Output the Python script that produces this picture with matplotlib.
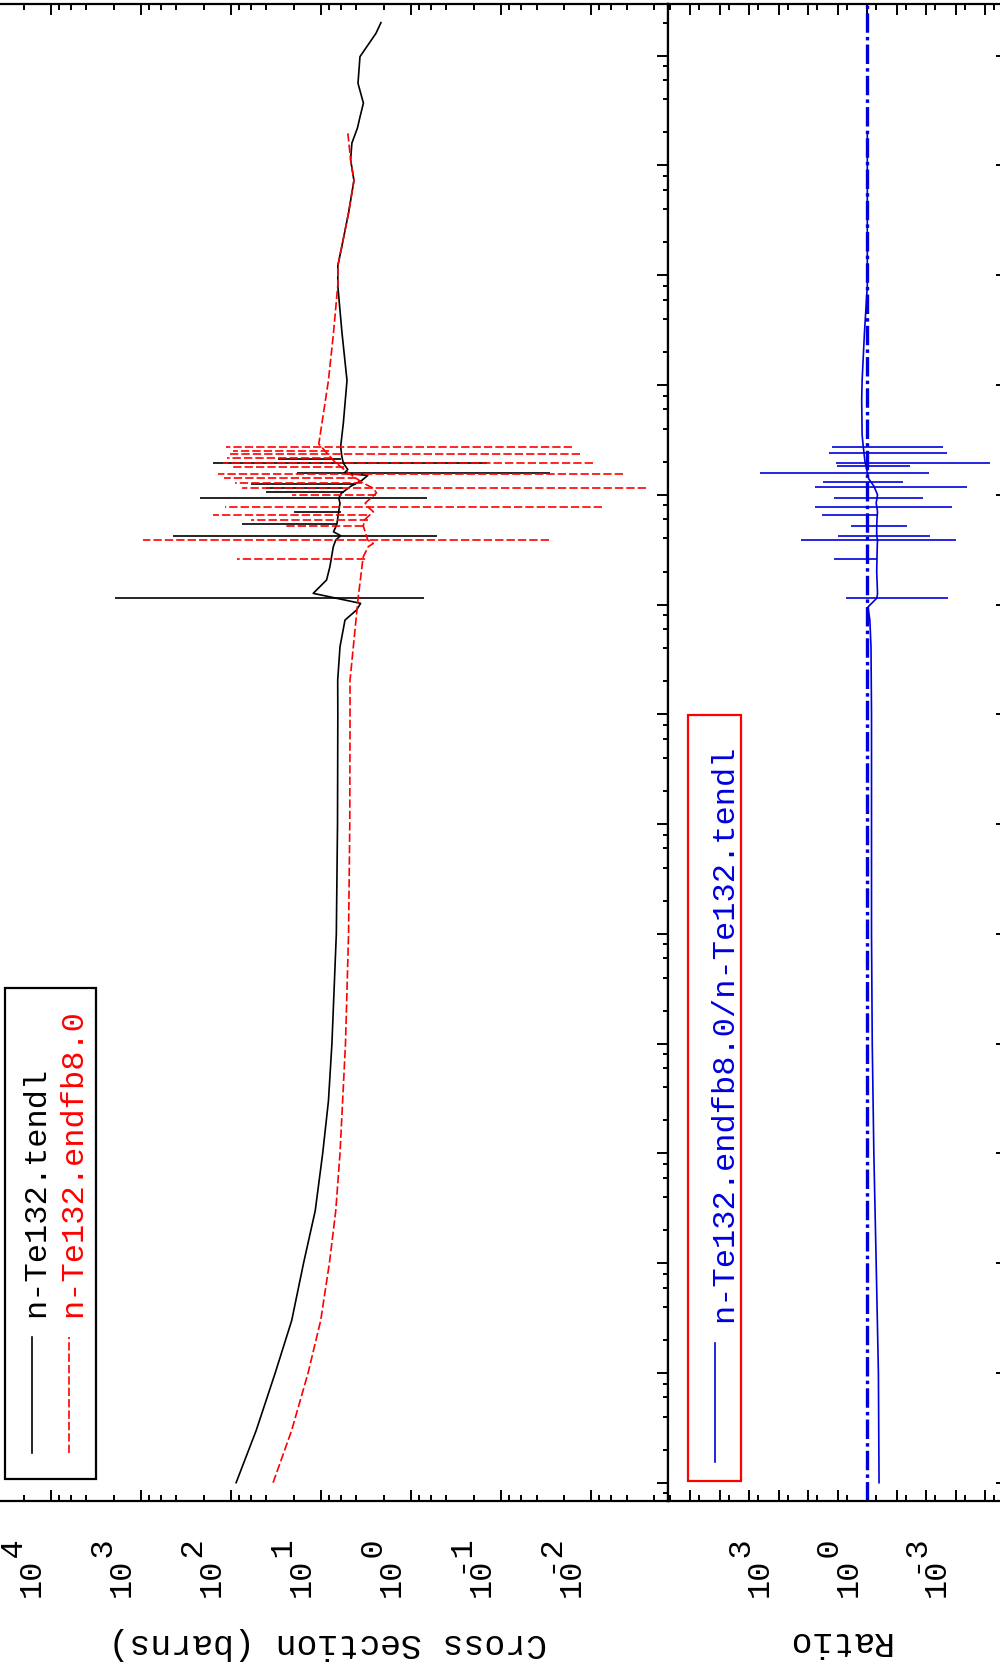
import numpy as np
import matplotlib.pyplot as plt
from matplotlib.ticker import LogLocator, NullFormatter

plt.rcParams['font.family'] = ['Liberation Mono', 'DejaVu Sans Mono']
plt.rcParams['lines.scale_dashes'] = False

# smooth background of each evaluation (energy in eV, cross section in barns)
tendl_e = [1e-5, 3e-5, 1e-4, 3e-4, 1e-3, 3e-3, 1e-2, 3e-2, 0.1, 1.0, 10.0,
           100.0, 205.0, 413.0, 722.0, 891.0, 1025.0, 1265.0, 1455.0,
           1675.0, 2213.0, 3365.0, 3870.0, 4240.0, 4600.0, 5100.0, 5420.0,
           6500.0, 8400.0, 9290.0, 1.03e4, 1.2e4, 1.35e4, 1.5e4, 1.57e4,
           1.7e4, 1.94e4, 2.2e4, 2.74e4, 4.5e4, 1.1e5, 3e5, 8e5, 1.22e6,
           1.9e6, 3.7e6, 7.3e6, 1.13e7, 1.6e7, 2.2e7, 2.76e7, 3.7e7, 5.6e7,
           9.8e7, 1.6e8, 2.0e8]
tendl_xs = [87.0, 52.0, 32.0, 21.0, 15.5, 11.5, 9.5, 8.2, 7.5, 6.7, 6.5,
            6.45, 6.47, 6.1, 5.37, 4.0, 3.6, 12.1, 10.2,
            8.6, 7.9, 7.24, 6.8, 6.0, 7.2, 6.8, 6.6,
            6.4, 6.1, 6.3, 5.9, 4.6, 3.5, 3.0, 5.5,
            5.0, 5.6, 5.8, 6.0, 5.6, 5.1, 5.8, 6.45, 6.45,
            5.77, 4.9, 4.27, 4.65, 4.5, 3.9, 3.66, 3.35, 3.85,
            3.66, 2.43, 2.14]
endf_e = [1e-5, 3e-5, 1e-4, 3e-4, 1e-3, 3e-3, 1e-2, 0.1, 1.0, 10.0, 100.0,
          205.0, 1180.0, 2580.0, 2730.0, 3365.0, 3610.0, 3870.0, 4150.0,
          5220.0, 6000.0, 7000.0, 7780.0, 8400.0, 1.04e4, 1.146e4, 1.3e4,
          1.6e4, 2.0e4, 2.4e4, 2.9e4, 1.1e5, 3e5, 8.2e5, 1.22e6, 1.9e6,
          3.7e6, 7.3e6, 1.13e7, 2.0e7]
endf_xs = [33.8, 21.0, 13.8, 10.0, 8.0, 6.8, 6.1, 5.3, 4.9, 4.75, 4.72,
           4.72, 3.82, 3.4, 3.36, 2.96, 2.6, 3.0, 3.08,
           3.37, 3.2, 2.6, 3.0, 3.2, 2.4, 2.6, 3.5,
           5.0, 7.0, 8.5, 10.5, 8.2, 7.2, 6.45, 6.45, 5.77,
           4.9, 4.27, 4.65, 5.0]

# resonances: energy, lowest and highest cross section of each spike
tendl_res_e = [1140.0, 4240.0, 5420.0, 7000.0, 9290.0, 1.05e4, 1.146e4,
               1.25e4, 1.57e4, 1.94e4, 2.1e4]
tendl_res_lo = [0.71, 0.51, 6.6, 6.0, 0.66, 5.5, 5.65, 4.0, 0.028, 0.143, 6.0]
tendl_res_hi = [1940.0, 436.0, 75.0, 20.0, 220.0, 40.0, 40.0, 60.0, 18.5,
                158.0, 30.0]
endf_res_e = [2580.0, 3870.0, 5220.0, 5900.0, 6550.0, 7780.0, 9960.0,
              1.146e4, 1.27e4, 1.41e4, 1.545e4, 1.78e4, 1.96e4, 2.15e4,
              2.35e4, 2.52e4, 2.74e4]
endf_res_lo = [3.22, 0.0288, 3.37, 3.0, 3.08, 0.0075, 2.4, 0.0024, 3.5,
               4.0, 0.0044, 5.5, 0.0094, 7.5, 0.0132, 8.0, 0.0163]
endf_res_hi = [86.0, 931.0, 24.9, 60.0, 158.0, 115.0, 21.0, 74.0, 90.0,
               120.0, 139.0, 100.0, 121.0, 110.0, 106.0, 95.0, 112.0]

# ratio endfb8.0 / tendl
ratio_e = [1e-5, 1e-4, 1e-3, 1e-2, 0.1, 1.0, 10.0, 100.0, 413.0, 722.0,
           950.0, 1140.0, 1250.0, 2000.0, 3400.0, 3870.0, 4210.0, 5000.0,
           6000.0, 7000.0, 8400.0, 1e4, 1.2e4, 1.4e4, 2e4, 2.74e4, 3.5e4,
           7.3e4, 1.1e5, 3e5, 8e5, 2e6, 2e7]
ratio_v = [0.40, 0.42, 0.50, 0.60, 0.68, 0.72, 0.72, 0.72, 0.75, 0.82,
           0.95, 0.48, 0.45, 0.48, 0.46, 0.45, 0.48, 0.48,
           0.47, 0.45, 0.5, 0.45, 0.6, 0.9, 1.2, 1.37, 1.5,
           1.55, 1.5, 1.25, 1.0, 1.0, 1.0]
ratio_res_e = [1140.0, 2600.0, 3870.0, 4210.0, 5200.0, 6550.0, 7780.0,
               9290.0, 1.17e4, 1.32e4, 1.57e4, 1.83e4, 1.96e4, 2.39e4,
               2.74e4]
ratio_res_lo = [0.0019, 0.48, 0.001, 0.0074, 0.044, 0.48, 0.0013, 0.013,
                4.2e-4, 0.063, 0.0079, 0.035, 6.9e-5, 0.002, 0.0026]
ratio_res_hi = [5.3, 13.0, 182.0, 9.6, 3.6, 34.0, 60.0, 14.0, 60.0, 31.0,
                4370.0, 11.0, 11.5, 20.0, 16.0]

xs_ticks = [1e4, 1e3, 1e2, 1e1, 1e0, 1e-1, 1e-2]
ratio_ticks = [1e3, 1e0, 1e-3]

W, H = 1000, 1667
fig = plt.figure(figsize=(W / 100, H / 100), dpi=100)


def box(x0, y0, x1, y1):
    # pixel box measured from the top-left corner
    return [x0 / W, 1 - y1 / H, (x1 - x0) / W, (y1 - y0) / H]


ax = fig.add_axes(box(0, 4, 668, 1500.7))
axr = fig.add_axes(box(668, 4, 1007, 1500.7))

for a in (ax, axr):
    a.set_xscale('log')
    a.set_yscale('log')
    a.set_ylim(10 ** -5.164, 10 ** 8.471)
    a.yaxis.set_major_locator(LogLocator(base=10, numticks=30))
    a.yaxis.set_minor_locator(LogLocator(base=10, subs=(2, 4, 6, 8), numticks=30))
    a.xaxis.set_major_formatter(NullFormatter())
    a.xaxis.set_minor_formatter(NullFormatter())
    a.yaxis.set_major_formatter(NullFormatter())
    a.yaxis.set_minor_formatter(NullFormatter())
    for s in a.spines.values():
        s.set_linewidth(1.6)

ax.set_xlim(10 ** 4.563, 10 ** -2.859)
axr.set_xlim(10 ** 6.763, 10 ** -4.74)
ax.spines['left'].set_visible(False)

ax.xaxis.set_major_locator(LogLocator(base=10, numticks=30))
ax.xaxis.set_minor_locator(LogLocator(base=10, subs=(2, 4, 6, 8), numticks=30))
axr.xaxis.set_major_locator(LogLocator(base=10, numticks=30))
axr.xaxis.set_minor_locator(LogLocator(base=10, subs=(5,), numticks=30))

for a in (ax, axr):
    a.tick_params(axis='x', which='both', direction='in', top=True, bottom=True, width=1.4)
    a.tick_params(axis='x', which='major', length=8.1)
    a.tick_params(axis='x', which='minor', length=4.1)

ax.tick_params(axis='y', which='both', direction='inout', left=False, right=True, width=1.4)
ax.tick_params(axis='y', which='major', length=16.3)
ax.tick_params(axis='y', which='minor', length=7.9)
axr.tick_params(axis='y', which='both', direction='in', left=False, right=True, width=1.4)
axr.tick_params(axis='y', which='major', length=8.1)
axr.tick_params(axis='y', which='minor', length=4.0)

# cross sections, drawn with energy running up the page
dash = (0, (6, 2.2))
ax.plot(tendl_xs, tendl_e, color='black', lw=1.2)
ax.hlines(tendl_res_e, tendl_res_lo, tendl_res_hi, color='black', lw=1.2)
ax.plot(endf_xs, endf_e, color='red', lw=1.2, ls=dash)
ax.hlines(endf_res_e, endf_res_lo, endf_res_hi, color='red', lw=1.2, ls=dash)

# ratio panel
axr.axvline(1.0, color='#0000dd', lw=2.4, ls=(0, (14, 3, 2.5, 3)))
axr.plot(ratio_v, ratio_e, color='#0000dd', lw=1.2)
axr.hlines(ratio_res_e, ratio_res_lo, ratio_res_hi, color='#0000dd', lw=1.2)

fig.canvas.draw()

TICK_FS = 23
LAB_FS = 25
LEG_FS = 23


def exp_label(a, value, exponent):
    # "10" with a full-size raised exponent, turned on its side
    x = a.transData.transform((value, 1.0))[0] + 2
    sign = '-' if exponent < 0 else ' '
    s = ' ' + sign + str(abs(exponent)) + '\n10'
    fig.text(x / W, 70 / H, s, rotation=90, rotation_mode='anchor',
             ha='left', va='baseline', fontsize=TICK_FS, linespacing=0.45)


for v in xs_ticks:
    exp_label(ax, v, int(round(np.log10(v))))
for v in ratio_ticks:
    exp_label(axr, v, int(round(np.log10(v))))

fig.text(328 / W, 1 - 1643 / H, 'Cross Section (barns)', rotation=180,
         ha='center', va='center', fontsize=LAB_FS)
fig.text(838 / W, 1 - 1641 / H, 'Ratio', rotation=180,
         ha='center', va='center', fontsize=LAB_FS)

# legends drawn as boxed labels
fig.patches.append(plt.Rectangle((5 / W, 1 - 1479 / H), 91 / W, 491 / H,
                                 transform=fig.transFigure, fill=False,
                                 ec='black', lw=1.6))
fig.add_artist(plt.Line2D([32 / W, 32 / W], [1 - 1453 / H, 1 - 1337 / H],
                          color='black', lw=1.2))
fig.add_artist(plt.Line2D([69 / W, 69 / W], [1 - 1453 / H, 1 - 1337 / H],
                          color='red', lw=1.2, ls=dash))
fig.text(44 / W, 1 - 1317 / H, 'n-Te132.tendl', rotation=90,
         rotation_mode='anchor', ha='left', va='baseline', fontsize=LEG_FS)
fig.text(81 / W, 1 - 1317 / H, 'n-Te132.endfb8.0', rotation=90,
         rotation_mode='anchor', ha='left', va='baseline', fontsize=LEG_FS,
         color='red')

fig.patches.append(plt.Rectangle((688 / W, 1 - 1481 / H), 53 / W, 766 / H,
                                 transform=fig.transFigure, fill=False,
                                 ec='red', lw=1.6))
fig.add_artist(plt.Line2D([715 / W, 715 / W], [1 - 1462 / H, 1 - 1343 / H],
                          color='#0000dd', lw=1.2))
fig.text(732 / W, 1 - 1322 / H, 'n-Te132.endfb8.0/n-Te132.tendl', rotation=90,
         rotation_mode='anchor', ha='left', va='baseline', fontsize=LEG_FS,
         color='#0000dd')

fig.savefig('out.png', dpi=100)
